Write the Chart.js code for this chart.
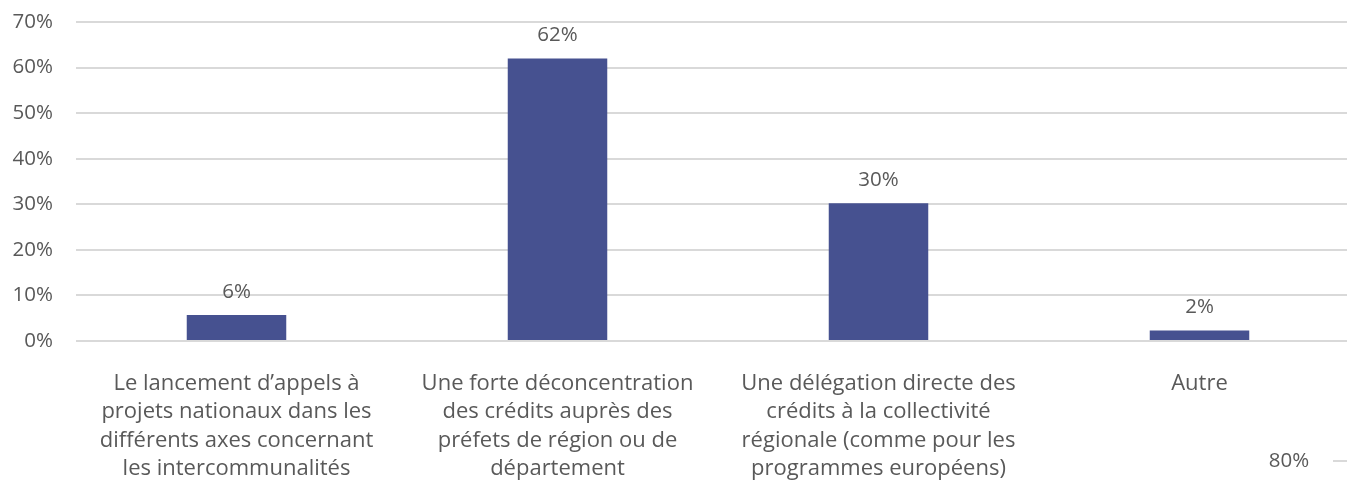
<!DOCTYPE html>
<html>
<head>
<meta charset="utf-8">
<script src="https://cdn.jsdelivr.net/npm/chart.js@4/dist/chart.umd.min.js"></script>
<style>
  html, body { margin: 0; padding: 0; background: #fff; overflow: hidden; }
  #wrap { width: 1360px; height: 485px; position: relative; }
</style>
</head>
<body>
<div id="wrap"><canvas id="c"></canvas></div>
<script>
const categories = [
  ["Le lancement d\u2019appels \u00e0", "projets nationaux dans les", "diff\u00e9rents axes concernant", "les intercommunalit\u00e9s"],
  ["Une forte d\u00e9concentration", "des cr\u00e9dits aupr\u00e8s des", "pr\u00e9fets de r\u00e9gion ou de", "d\u00e9partement"],
  ["Une d\u00e9l\u00e9gation directe des", "cr\u00e9dits \u00e0 la collectivit\u00e9", "r\u00e9gionale (comme pour les", "programmes europ\u00e9ens)"],
  ["Autre"]
];
const values = [5.7, 62, 30.2, 2.3];
const valueLabels = ["6%", "62%", "30%", "2%"];
const yTicks = [0, 10, 20, 30, 40, 50, 60, 70];

const FONT = "'Open Sans', Lato, sans-serif";
const GREY = "#595959";

const dataLabels = {
  id: "dataLabels",
  afterDatasetsDraw(chart) {
    const ctx = chart.ctx;
    const meta = chart.getDatasetMeta(0);
    ctx.save();
    ctx.fillStyle = GREY;
    ctx.font = "20.5px " + FONT;
    ctx.textAlign = "center";
    ctx.textBaseline = "middle";
    meta.data.forEach((bar, i) => {
      ctx.fillText(valueLabels[i], bar.x, bar.y - 23);
    });
    // stray fragment of neighbouring chart visible in reference
    ctx.fillText("80%", 1289, 461);
    ctx.strokeStyle = "#d9d9d9";
    ctx.lineWidth = 2;
    ctx.beginPath();
    ctx.moveTo(1333, 461);
    ctx.lineTo(1360, 461);
    ctx.stroke();
    ctx.restore();
  }
};

new Chart(document.getElementById("c"), {
  type: "bar",
  data: {
    labels: categories,
    datasets: [{
      data: values,
      backgroundColor: "#465190",
      categoryPercentage: 1,
      barPercentage: 0.31
    }]
  },
  options: {
    responsive: true,
    maintainAspectRatio: false,
    animation: false,
    layout: { padding: { top: 22, right: 0, bottom: 0, left: 0 } },
    plugins: { legend: { display: false }, tooltip: { enabled: false } },
    scales: {
      x: {
        grid: { display: false, drawTicks: false },
        border: { display: false },
        ticks: {
          color: GREY,
          font: { family: FONT, size: 22, lineHeight: 1.3 },
          padding: 28,
          maxRotation: 0,
          autoSkip: false
        },
        afterFit(scale) { scale.height = 144; }
      },
      y: {
        min: 0,
        max: 70,
        afterBuildTicks(scale) { scale.ticks = yTicks.map(v => ({ value: v })); },
        grid: { color: "#d9d9d9", lineWidth: 2, drawTicks: false },
        border: { display: false },
        ticks: {
          color: GREY,
          font: { family: FONT, size: 20.5 },
          padding: 23,
          callback: v => v + "%"
        },
        afterFit(scale) { scale.width = 76; scale.paddingTop = 0; scale.paddingBottom = 0; }
      }
    }
  },
  plugins: [dataLabels]
});
</script>
</body>
</html>
